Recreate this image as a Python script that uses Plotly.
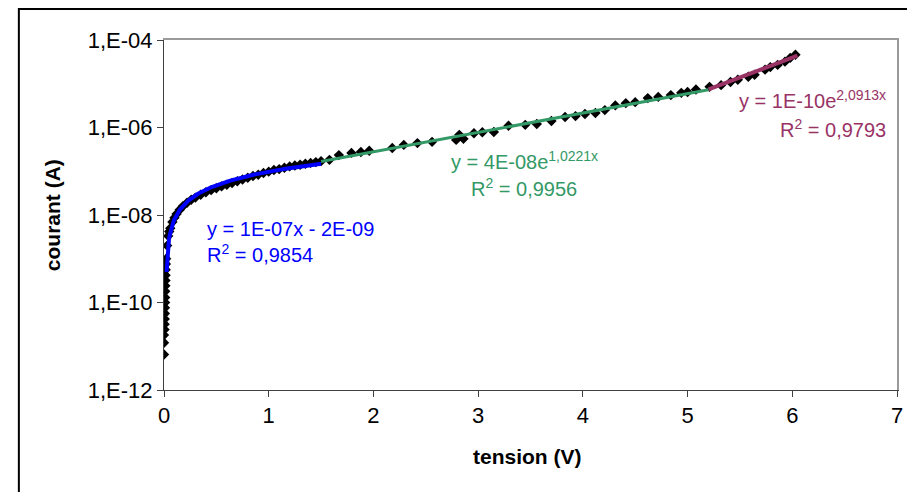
import numpy as np
import plotly.graph_objects as go

# tension (V) / courant (A)
tension = [0.0, 0.0, 0.0,
           0.005, 0.006, 0.007, 0.008, 0.009, 0.010, 0.011, 0.012, 0.013, 0.014, 0.015, 0.016, 0.018,
           0.02, 0.03, 0.04, 0.05, 0.06, 0.08, 0.10, 0.12, 0.15, 0.18, 0.22, 0.26, 0.30, 0.35,
           0.40, 0.45, 0.50, 0.55, 0.60, 0.65, 0.70, 0.75, 0.80, 0.85, 0.90, 0.95, 1.00,
           1.05, 1.10, 1.15, 1.20, 1.25, 1.30, 1.35, 1.40, 1.45, 1.50,
           1.58, 1.67, 1.79, 1.88, 1.96, 2.18, 2.29, 2.42, 2.56, 2.79, 2.82, 2.86, 2.96,
           3.04, 3.15, 3.29, 3.45, 3.56, 3.70, 3.83, 3.93, 4.02, 4.12, 4.21, 4.31, 4.41,
           4.50, 4.62, 4.72, 4.84, 4.94, 5.00, 5.08, 5.21, 5.32, 5.41, 5.48, 5.58, 5.64,
           5.74, 5.79, 5.86, 5.93, 5.98, 6.03]
courant = [6.5e-12, 1.2e-11, 1.8e-11,
           2.4e-11, 3.2e-11, 4.2e-11, 5.6e-11, 7.6e-11, 1.0e-10, 1.3e-10, 1.8e-10, 2.4e-10, 3.2e-10, 4.2e-10, 5.6e-10, 7.6e-10,
           1.0e-9, 2.0e-9, 3.3e-9, 4.2e-9, 5.0e-9, 6.9e-9, 8.7e-9, 1.05e-8, 1.32e-8, 1.58e-8, 1.9e-8, 2.24e-8, 2.5e-8, 2.9e-8,
           3.3e-8, 3.7e-8, 4.1e-8, 4.5e-8, 4.9e-8, 5.4e-8, 5.9e-8, 6.5e-8, 7.1e-8, 7.8e-8, 8.3e-8, 9.1e-8, 9.8e-8,
           1.07e-7, 1.12e-7, 1.2e-7, 1.29e-7, 1.35e-7, 1.41e-7, 1.48e-7, 1.55e-7, 1.62e-7, 1.7e-7,
           1.82e-7, 2.34e-7, 2.63e-7, 2.75e-7, 2.95e-7, 3.4e-7, 4.0e-7, 4.4e-7, 4.7e-7, 5.2e-7, 6.8e-7, 5.5e-7, 7.4e-7,
           7.8e-7, 7.9e-7, 1.1e-6, 1.15e-6, 1.2e-6, 1.41e-6, 1.74e-6, 1.82e-6, 2.04e-6, 2.14e-6, 2.5e-6, 3.2e-6, 3.6e-6,
           3.8e-6, 4.7e-6, 5.0e-6, 5.5e-6, 6.2e-6, 6.5e-6, 7.4e-6, 8.5e-6, 9.3e-6, 1.1e-5, 1.23e-5, 1.45e-5, 1.6e-5,
           2.1e-5, 2.4e-5, 2.7e-5, 3.2e-5, 3.9e-5, 4.6e-5]

# trend lines (coefficients as read, x ranges as drawn)
lin_coef = [1.0e-7, -2.0e-9]       # y = a*x + b
lin_range = [0.025, 1.5]
exp1_coef = [3.6e-8, 1.0221]       # y = a*exp(k*x)
exp1_range = [1.5, 5.2]
exp2_coef = [1.4e-10, 2.0913]
exp2_range = [5.2, 6.05]

BLUE = "#0000FF"
GREEN = "#339966"
PURPLE = "#993366"
FRAME = "#9a9a9a"
FONT = "Liberation Sans, Arial, sans-serif"

x_lin = np.linspace(lin_range[0], lin_range[1], 200)
y_lin = lin_coef[0] * x_lin + lin_coef[1]
x_e1 = np.linspace(exp1_range[0], exp1_range[1], 50)
y_e1 = exp1_coef[0] * np.exp(exp1_coef[1] * x_e1)
x_e2 = np.linspace(exp2_range[0], exp2_range[1], 50)
y_e2 = exp2_coef[0] * np.exp(exp2_coef[1] * x_e2)

fig = go.Figure()
fig.add_trace(go.Scatter(x=tension, y=courant, mode="markers",
                         marker=dict(symbol="diamond", size=8, color="black")))
fig.add_trace(go.Scatter(x=x_lin, y=y_lin, mode="lines", line=dict(color=BLUE, width=4)))
fig.add_trace(go.Scatter(x=x_e1, y=y_e1, mode="lines", line=dict(color=GREEN, width=3)))
fig.add_trace(go.Scatter(x=x_e2, y=y_e2, mode="lines", line=dict(color=PURPLE, width=4)))
# empty trace so the top/right frame axes get drawn
fig.add_trace(go.Scatter(x=[None], y=[None], xaxis="x2", yaxis="y2", hoverinfo="skip"))

def lab(x, y, text, color, anchor):
    fig.add_annotation(x=x, y=y, text=text, showarrow=False, xanchor=anchor, yanchor="middle",
                       font=dict(family=FONT, size=20, color=color))

lab(0.39, -8.32, "y = 1E-07x - 2E-09", BLUE, "left")
lab(0.39, -8.88, "R<sup>2</sup> = 0,9854", BLUE, "left")
lab(3.44, -6.75, "y = 4E-08e<sup>1,0221x</sup>", GREEN, "center")
lab(3.44, -7.36, "R<sup>2</sup> = 0,9956", GREEN, "center")
lab(6.91, -5.36, "y = 1E-10e<sup>2,0913x</sup>", PURPLE, "right")
lab(6.91, -6.02, "R<sup>2</sup> = 0,9793", PURPLE, "right")

fig.add_annotation(xref="paper", yref="paper", x=-0.171, y=0.5, text="<b>courant (A)</b>",
                   textangle=-90, showarrow=False, font=dict(family=FONT, size=21, color="black"))
fig.add_annotation(xref="paper", yref="paper", x=0.496, y=-0.229, text="<b>tension (V)</b>",
                   showarrow=False, font=dict(family=FONT, size=21, color="black"))

# outer chart border (black)
fig.add_shape(type="rect", xref="paper", yref="paper", x0=-0.198, y0=-0.35, x1=1.03, y1=1.0886,
              line=dict(color="black", width=2), layer="below")

# the page body adds an 8px offset, so the figure is sized to compensate
fig.update_layout(
    width=907, height=484,
    margin=dict(l=156, r=15, t=32, b=102),
    paper_bgcolor="white", plot_bgcolor="white",
    showlegend=False,
    font=dict(family=FONT, size=22, color="black"),
    xaxis=dict(range=[0, 7], dtick=1, showgrid=False, zeroline=False,
               showline=True, linecolor="#404040", linewidth=1,
               ticks="outside", ticklen=6, tickcolor="#404040",
               tickfont=dict(family=FONT, size=22)),
    yaxis=dict(type="log", range=[-12, -4], showgrid=False, zeroline=False,
               showline=True, linecolor="#404040", linewidth=1,
               ticks="outside", ticklen=6, tickcolor="#404040",
               tickvals=[1e-12, 1e-10, 1e-8, 1e-6, 1e-4],
               ticktext=["1,E-12", "1,E-10", "1,E-08", "1,E-06", "1,E-04"],
               tickfont=dict(family=FONT, size=22)),
    xaxis2=dict(overlaying="x", side="top", range=[0, 7], showline=True, linecolor=FRAME,
                linewidth=2, showgrid=False, zeroline=False, showticklabels=False, ticks=""),
    yaxis2=dict(overlaying="y", side="right", range=[0, 1], showline=True, linecolor=FRAME,
                linewidth=2, showgrid=False, zeroline=False, showticklabels=False, ticks=""),
)

fig.write_html("out.html")
